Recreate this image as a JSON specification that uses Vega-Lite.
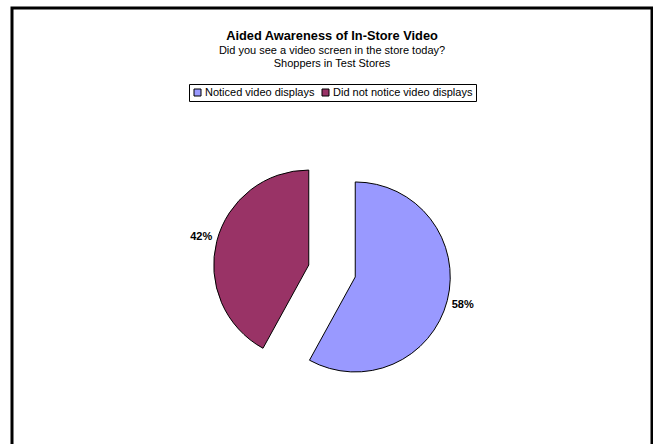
{
  "$schema": "https://vega.github.io/schema/vega-lite/v6.json",
  "width": 640,
  "height": 440,
  "autosize": "none",
  "padding": {"left": 12, "top": 8, "right": 1, "bottom": -4},
  "background": "white",
  "title": {
    "text": "Aided Awareness of In-Store Video",
    "subtitle": ["Did you see a video screen in the store today?", "Shoppers in Test Stores"],
    "anchor": "middle",
    "orient": "top",
    "offset": -62,
    "font": "Liberation Sans",
    "fontSize": 12.8,
    "fontWeight": "bold",
    "color": "black",
    "subtitleFont": "Liberation Sans",
    "subtitleFontSize": 11,
    "subtitleColor": "black",
    "subtitlePadding": 2,
    "subtitleLineHeight": 12.5
  },
  "data": {
    "values": [
      {"response": "Noticed video displays", "share": 0.58},
      {"response": "Did not notice video displays", "share": 0.42}
    ]
  },
  "layer": [
    {
      "data": {"values": [{"frame": "chart border"}]},
      "mark": {"type": "rect", "fill": null, "stroke": "black", "strokeWidth": 3}
    },
    {
      "mark": {
        "type": "arc",
        "outerRadius": 95,
        "stroke": "black",
        "strokeWidth": 1,
        "x": {"expr": "width/2 + 24*sin(PI*(datum.share_start + datum.share_end))"},
        "y": {"expr": "height/2 + 43 - 24*cos(PI*(datum.share_start + datum.share_end))"}
      },
      "encoding": {
        "theta": {"field": "share", "type": "quantitative", "stack": true},
        "order": {"field": "response", "sort": "descending"},
        "color": {
          "field": "response",
          "type": "nominal",
          "scale": {
            "domain": ["Noticed video displays", "Did not notice video displays"],
            "range": ["#9999FF", "#993366"]
          },
          "legend": {
            "orient": "none",
            "legendX": 177,
            "legendY": 76,
            "direction": "horizontal",
            "title": null,
            "strokeColor": "black",
            "padding": 3,
            "symbolType": "square",
            "symbolSize": 49,
            "symbolStrokeColor": "black",
            "symbolStrokeWidth": 1,
            "labelFont": "Liberation Sans",
            "labelFontSize": 11,
            "labelColor": "black",
            "labelOffset": 2,
            "columnPadding": 5
          }
        }
      }
    },
    {
      "mark": {
        "type": "text",
        "radius": 111,
        "font": "Liberation Sans",
        "fontSize": 11,
        "fontWeight": "bold",
        "color": "black",
        "x": {"expr": "width/2 + 24*sin(PI*(datum.share_start + datum.share_end))"},
        "y": {"expr": "height/2 + 43 - 24*cos(PI*(datum.share_start + datum.share_end))"}
      },
      "encoding": {
        "theta": {"field": "share", "type": "quantitative", "stack": true},
        "order": {"field": "response", "sort": "descending"},
        "detail": {"field": "response", "type": "nominal"},
        "text": {"field": "share", "type": "quantitative", "format": ".0%"}
      }
    }
  ],
  "config": {
    "view": {"stroke": null}
  }
}
